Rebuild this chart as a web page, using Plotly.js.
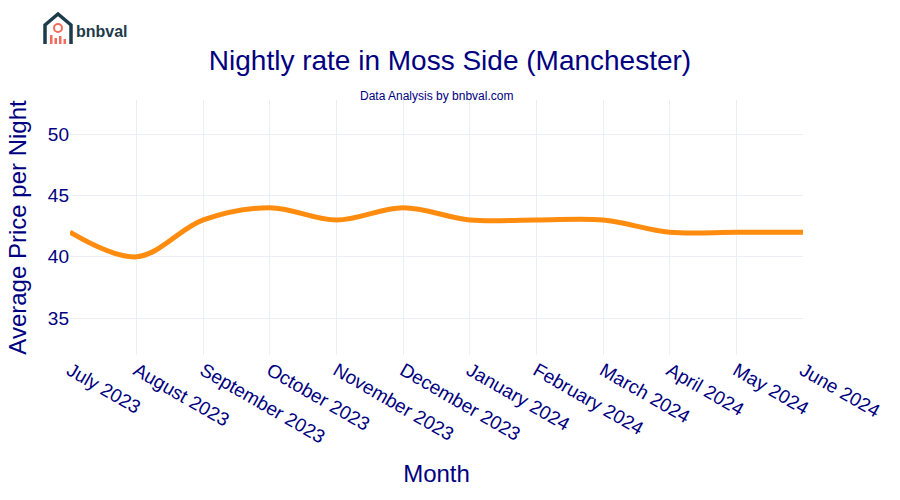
<!DOCTYPE html>
<html><head><meta charset="utf-8">
<script src="https://cdn.plot.ly/plotly-3.0.1.min.js"></script>
<style>body{margin:0}#c{width:900px;height:500px}</style>
</head><body><div id="c"></div>
<script>
const months = ["July 2023","August 2023","September 2023","October 2023","November 2023","December 2023","January 2024","February 2024","March 2024","April 2024","May 2024","June 2024"];
const prices = [42,40,43,44,43,44,43,43,43,42,42,42];

const navy = "#000080";
const teal = "#1d3b4a";
const coral = "#f26b5b";

const trace = {
  x: months, y: prices, type: "scatter", mode: "lines",
  line: {color: "#ff8c0f", width: 5, shape: "spline"},
  hoverinfo: "x+y"
};

const L = 70, R = 97, T = 100, B = 145, W = 900, H = 500;
const pw = W - L - R, ph = H - T - B;
function px(x){return (x - L)/pw;} function py(y){return (H - B - y)/ph;}
const shapes = [
  {type:"path", xref:"paper", yref:"paper",
   path:`M ${px(45)},${py(44)} L ${px(45)},${py(25)} L ${px(58)},${py(14)} L ${px(71)},${py(25)} L ${px(71)},${py(44)}`,
   line:{color:teal,width:3.5}},
  {type:"circle", xref:"paper", yref:"paper", x0:px(54), x1:px(62), y0:py(32), y1:py(24), line:{color:coral,width:2}},
  {type:"rect", xref:"paper", yref:"paper", x0:px(50), x1:px(52.5), y0:py(44), y1:py(35), fillcolor:coral, line:{width:0}},
  {type:"rect", xref:"paper", yref:"paper", x0:px(54.5), x1:px(57), y0:py(44), y1:py(38), fillcolor:coral, line:{width:0}},
  {type:"rect", xref:"paper", yref:"paper", x0:px(59), x1:px(61.5), y0:py(44), y1:py(36), fillcolor:coral, line:{width:0}},
  {type:"rect", xref:"paper", yref:"paper", x0:px(63.5), x1:px(66), y0:py(44), y1:py(39), fillcolor:coral, line:{width:0}}
];

const layout = {
  width: W, height: H,
  margin: {l: L, r: R, t: T, b: B},
  paper_bgcolor: "white", plot_bgcolor: "white",
  title: {text: "Nightly rate in Moss Side (Manchester)", x: 0.5, xanchor: "center", y: 0.88, yanchor: "middle",
          font: {family: "Liberation Sans, Arial, sans-serif", size: 28, color: navy}},
  font: {family: "Liberation Sans, Arial, sans-serif", color: navy},
  xaxis: {
    title: {text: "Month", font: {size: 24, color: navy}, standoff: 18},
    tickangle: 30, tickfont: {size: 19, color: navy},
    gridcolor: "#eceef6", showline: false, zeroline: false, ticks: ""
  },
  yaxis: {
    title: {text: "Average Price per Night", font: {size: 24, color: navy}, standoff: 14},
    range: [32.0, 52.77], dtick: 5, tickfont: {size: 19, color: navy},
    gridcolor: "#eceef6", zeroline: false, ticks: ""
  },
  annotations: [
    {text: "Data Analysis by bnbval.com", xref: "paper", yref: "paper", x: 0.5, y: py(96), xanchor: "center", yanchor: "middle",
     showarrow: false, font: {size: 12, color: navy}},
    {text: "<b>bnbval</b>", xref: "paper", yref: "paper", x: px(74), y: py(31), xanchor: "left", yanchor: "middle",
     showarrow: false, font: {size: 16, color: teal, family: "Liberation Sans, Arial, sans-serif"}}
  ],
  shapes: shapes,
  showlegend: false
};
Plotly.newPlot("c", [trace], layout, {displayModeBar: false});
</script></body></html>
